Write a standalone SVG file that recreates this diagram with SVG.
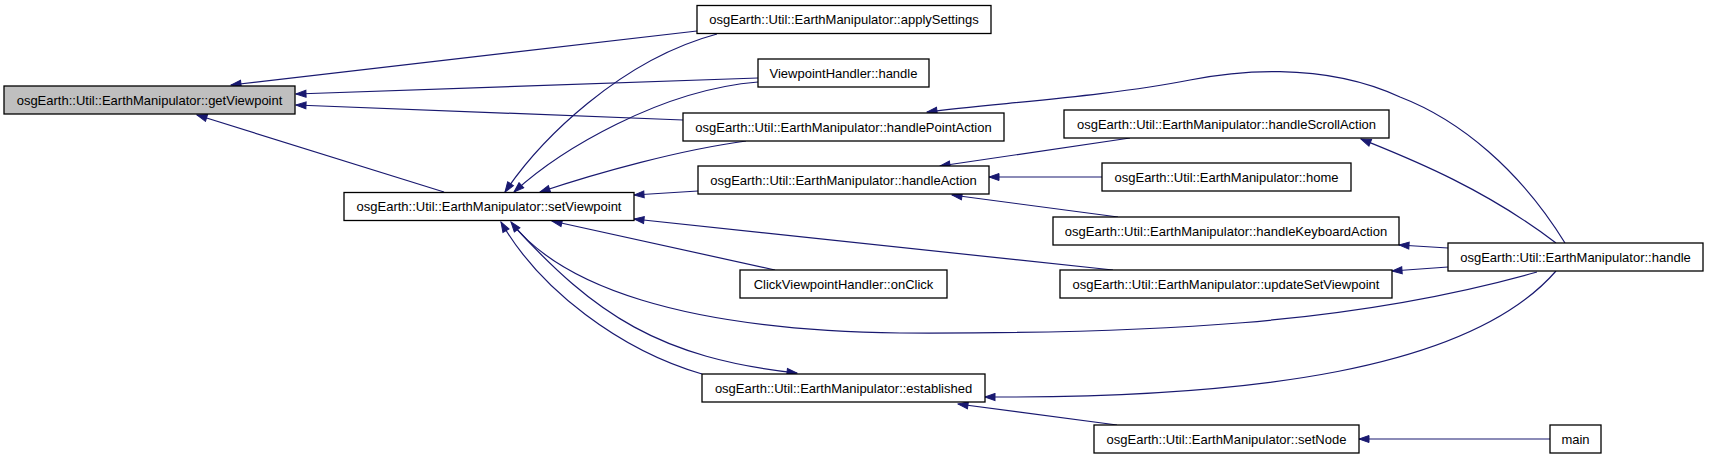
<svg xmlns="http://www.w3.org/2000/svg" width="1709" height="459" viewBox="0 0 1709 459">
<style>
.n rect{fill:#ffffff;stroke:#000000;stroke-width:1.3}
.n.hl rect{fill:#bfbfbf}
.n text{font-family:"Liberation Sans",Arial,sans-serif;font-size:13px;fill:#000000;text-anchor:middle}
.e path{fill:none;stroke:#191970;stroke-width:1.2;marker-start:url(#ah)}
</style>
<defs>
<marker id="ah" markerUnits="userSpaceOnUse" markerWidth="12" markerHeight="9" viewBox="0 0 12 9" refX="11" refY="4.5" orient="auto-start-reverse">
<path d="M1,1 L11,4.5 L1,8 z" fill="#191970" stroke="#191970" stroke-width="1"/>
</marker>
</defs>
<rect x="0" y="0" width="1709" height="459" fill="#ffffff"/>
<g id="edges" class="e">
<path d="M231,85 L697,31"/>
<path d="M296,94 L758,78"/>
<path d="M296,105 L683,120"/>
<path d="M197,115 L444,192"/>
<path d="M505,192 C540,140 620,60 717,34"/>
<path d="M514,192 C560,150 660,90 758,82"/>
<path d="M540,192 C600,172 680,150 746,141"/>
<path d="M634,195 L698,191"/>
<path d="M634,219 L1113,270"/>
<path d="M552,221 L775,270"/>
<path d="M511,222 C560,285 680,330 900,333 C1150,334 1350,325 1537,272"/>
<path d="M501,222 C540,290 620,350 702,374"/>
<path d="M797,373 C660,358 595,315 513,225"/>
<path d="M985,397 C1250,398 1470,370 1556,271"/>
<path d="M958,404 L1117,425"/>
<path d="M1359,439 L1550,439"/>
<path d="M927,112 C1000,103 1110,96 1190,80 C1230,72 1320,60 1400,97 C1460,120 1520,170 1565,243"/>
<path d="M1361,139 C1400,155 1480,185 1556,243"/>
<path d="M1399,245 L1448,248"/>
<path d="M1392,271 L1448,267"/>
<path d="M940,166 L1130,138"/>
<path d="M989,177 L1102,177"/>
<path d="M952,195 L1118,217"/>
</g>
<g id="getViewpoint" class="n hl"><rect x="4" y="86" width="291" height="28"/><text x="149.5" y="104.5">osgEarth::Util::EarthManipulator::getViewpoint</text></g>
<g id="setViewpoint" class="n"><rect x="344" y="192.5" width="290" height="28"/><text x="489" y="211">osgEarth::Util::EarthManipulator::setViewpoint</text></g>
<g id="applySettings" class="n"><rect x="697" y="5.5" width="294" height="28"/><text x="844" y="24">osgEarth::Util::EarthManipulator::applySettings</text></g>
<g id="viewpointHandlerHandle" class="n"><rect x="758" y="59" width="171" height="28"/><text x="843.5" y="77.5">ViewpointHandler::handle</text></g>
<g id="handlePointAction" class="n"><rect x="683" y="113" width="321" height="28"/><text x="843.5" y="131.5">osgEarth::Util::EarthManipulator::handlePointAction</text></g>
<g id="handleAction" class="n"><rect x="698" y="166" width="291" height="28"/><text x="843.5" y="184.5">osgEarth::Util::EarthManipulator::handleAction</text></g>
<g id="onClick" class="n"><rect x="740" y="270" width="207" height="28"/><text x="843.5" y="288.5">ClickViewpointHandler::onClick</text></g>
<g id="established" class="n"><rect x="702" y="374" width="283" height="28"/><text x="843.5" y="392.5">osgEarth::Util::EarthManipulator::established</text></g>
<g id="handleScrollAction" class="n"><rect x="1064" y="110" width="325" height="28"/><text x="1226.5" y="128.5">osgEarth::Util::EarthManipulator::handleScrollAction</text></g>
<g id="home" class="n"><rect x="1102" y="163" width="249" height="28"/><text x="1226.5" y="181.5">osgEarth::Util::EarthManipulator::home</text></g>
<g id="handleKeyboardAction" class="n"><rect x="1053" y="217" width="346" height="28"/><text x="1226" y="235.5">osgEarth::Util::EarthManipulator::handleKeyboardAction</text></g>
<g id="updateSetViewpoint" class="n"><rect x="1060" y="270" width="332" height="28"/><text x="1226" y="288.5">osgEarth::Util::EarthManipulator::updateSetViewpoint</text></g>
<g id="setNode" class="n"><rect x="1094" y="425" width="265" height="28"/><text x="1226.5" y="443.5">osgEarth::Util::EarthManipulator::setNode</text></g>
<g id="handle" class="n"><rect x="1448" y="243" width="255" height="28"/><text x="1575.5" y="261.5">osgEarth::Util::EarthManipulator::handle</text></g>
<g id="main" class="n"><rect x="1550" y="425" width="51" height="28"/><text x="1575.5" y="443.5">main</text></g>
</svg>
